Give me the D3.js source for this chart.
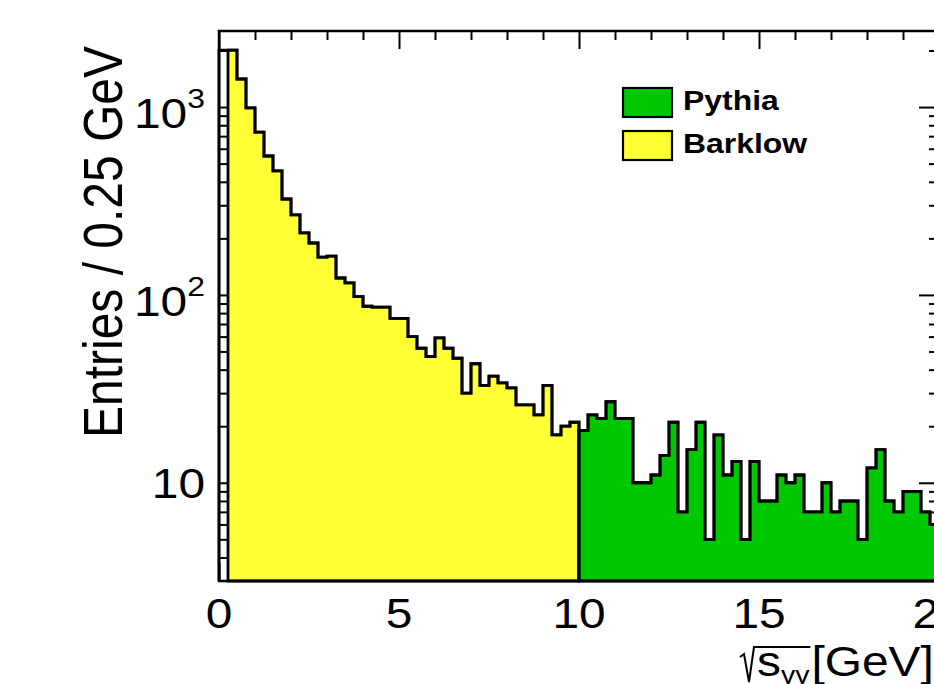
<!DOCTYPE html>
<html>
<head>
<meta charset="utf-8">
<script src="https://cdn.jsdelivr.net/npm/d3@7"></script>
<style>
  body { margin: 0; background: #fff; }
  svg { display: block; font-family: "Liberation Sans", Arial, Helvetica, sans-serif; }
</style>
</head>
<body>
<svg id="chart" width="934" height="684"></svg>
<script>
// bin contents, 0.25 GeV bins
const binWidth = 0.25;
const barklowStart = 0;   // first bin (0-0.25) is drawn hollow in the original
const barklow = [2010, 2010, 1410, 990, 736, 549, 457, 324, 267, 214,
                 189, 159, 161, 123, 116, 98, 87, 86, 86, 75,
                 75, 60, 52, 47, 59, 52, 46, 30, 43, 33,
                 37, 34, 32, 26, 26, 23, 33, 18, 20, 21];
const pythiaStart = 10;
const pythia = [19, 23, 22, 27, 22, 22, 10, 10, 11, 14,
                21, 7, 15, 21, 5, 18, 11, 13, 5, 13,
                8, 8, 11, 10, 11, 7, 7, 10, 7, 8,
                8, 5, 12, 15, 8, 7, 9, 9, 7, 6];

const legendNames = ["Pythia", "Barklow"];
const legendColors = ["#00c800", "#ffff33"];

const xLabelValues = [0, 5, 10, 15, 20];
const yLabelValues = [10, 100, 1000];
const yLabelExp = ["", "2", "3"];
const yMinorTicks = [4, 5, 6, 7, 8, 9, 20, 30, 40, 50, 60, 70, 80, 90,
                     200, 300, 400, 500, 600, 700, 800, 900, 2000];
const xMajorTicks = [0, 5, 10, 15, 20];
const xMinorTicks = d3.range(0, 21).filter(d => d % 5 != 0);

// frame
const fLeft = 219, fRight = 939, fTop = 31, fBottom = 581;
const stretch = 1.14;   // text in the picture is a bit wide

const svg = d3.select("#chart");

const x = d3.scaleLinear().domain([0, 20]).range([fLeft, fRight]);
const y = d3.scaleLog().domain([3, 2540]).range([fBottom, fTop]);

// ticks go first, the fills cover them
function yAxis(gen, tx) {
    svg.append("g").attr("transform", "translate(" + tx + ",0)")
        .call(gen)
        .call(g => g.select(".domain").remove())
        .call(g => g.selectAll("line").attr("stroke", "#000").attr("stroke-width", 2));
}
yAxis(d3.axisLeft(y).tickValues(yMinorTicks).tickSize(-10).tickFormat(""), fLeft);
yAxis(d3.axisLeft(y).tickValues(yLabelValues).tickSize(-20).tickFormat(""), fLeft);
yAxis(d3.axisRight(y).tickValues(yMinorTicks).tickSize(-10).tickFormat(""), fRight);
yAxis(d3.axisRight(y).tickValues(yLabelValues).tickSize(-20).tickFormat(""), fRight);

function xAxis(gen, ty) {
    svg.append("g").attr("transform", "translate(0," + ty + ")")
        .call(gen)
        .call(g => g.select(".domain").remove())
        .call(g => g.selectAll("line").attr("stroke", "#000").attr("stroke-width", 2));
}
xAxis(d3.axisTop(x).tickValues(xMinorTicks).tickSize(-9).tickFormat(""), fTop);
xAxis(d3.axisTop(x).tickValues(xMajorTicks).tickSize(-18).tickFormat(""), fTop);
xAxis(d3.axisBottom(x).tickValues(xMinorTicks).tickSize(-9).tickFormat(""), fBottom);
xAxis(d3.axisBottom(x).tickValues(xMajorTicks).tickSize(-18).tickFormat(""), fBottom);

// histogram helpers
function steps(values, start) {
    const pts = values.map((v, i) => [start + i * binWidth, v]);
    pts.push([start + values.length * binWidth, values[values.length - 1]]);
    return pts;
}
const area = d3.area()
    .curve(d3.curveStepAfter)
    .x(d => x(d[0]))
    .y0(y(3))
    .y1(d => y(d[1]));
const outline = d3.line()
    .curve(d3.curveStepAfter)
    .x(d => x(d[0]))
    .y(d => y(d[1]));

function drawHist(values, start, color, fillFrom) {
    const pts = steps(values, start);
    const fillPts = steps(values.slice(fillFrom), start + fillFrom * binWidth);
    svg.append("path")
        .datum(fillPts)
        .attr("fill", color)
        .attr("stroke", "#000")
        .attr("stroke-width", 2.8)
        .attr("d", area);
    const full = [[start, 3]].concat(pts).concat([[pts[pts.length - 1][0], 3]]);
    svg.append("path")
        .datum(full)
        .attr("fill", "none")
        .attr("stroke", "#000")
        .attr("stroke-width", 2.8)
        .attr("d", outline);
}
drawHist(barklow, barklowStart, legendColors[1], 1);
drawHist(pythia, pythiaStart, legendColors[0], 0);

// frame
svg.append("rect")
    .attr("x", fLeft).attr("y", fTop)
    .attr("width", fRight - fLeft).attr("height", fBottom - fTop)
    .attr("fill", "none").attr("stroke", "#000").attr("stroke-width", 2.5);

// tick labels
function wideText(tx, ty, anchor, size) {
    return svg.append("text")
        .attr("transform", "translate(" + tx + "," + ty + ") scale(" + stretch + ",1)")
        .attr("text-anchor", anchor)
        .attr("font-size", size)
        .attr("fill", "#000");
}
xLabelValues.forEach(v => {
    wideText(x(v), 628, "middle", 42).text(v);
});
yLabelValues.forEach((v, i) => {
    const exp = yLabelExp[i];
    const t = wideText(205, y(v) + (exp ? 21 : 15), "end", 42);
    t.append("tspan").text("10");
    if (exp) t.append("tspan").attr("font-size", 28).attr("dy", -20).text(exp);
});

// y title
svg.append("text")
    .attr("transform", "translate(122,242) scale(" + stretch + ",1) rotate(-90)")
    .attr("text-anchor", "middle")
    .attr("font-size", 48)
    .text("Entries / 0.25 GeV");

// x title: sqrt(s_gg) [GeV]
const tx0 = 757, tBase = 676;
const sPart = wideText(tx0, tBase, "start", 42);
sPart.append("tspan").text("s");
sPart.append("tspan").attr("font-size", 25).attr("dy", 8).text("γγ");
const sLen = sPart.node().getComputedTextLength() * stretch;
wideText(tx0 + sLen + 2, tBase, "start", 42).text("[GeV]");
svg.append("path")
    .attr("d", d3.line()([[tx0 - 17, 657], [tx0 - 13, 654], [tx0 - 8, 682], [tx0 - 3, 647], [tx0 + sLen + 1, 647]]))
    .attr("fill", "none").attr("stroke", "#000").attr("stroke-width", 2);

// legend
const legend = svg.append("g");
legendNames.forEach((name, i) => {
    const ly = 88 + i * 43;
    legend.append("rect")
        .attr("x", 623).attr("y", ly)
        .attr("width", 49).attr("height", 29)
        .attr("fill", legendColors[i])
        .attr("stroke", "#000").attr("stroke-width", 2.2);
    legend.append("text")
        .attr("transform", "translate(683," + (ly + 22) + ") scale(" + stretch + ",1)")
        .attr("font-size", 28)
        .attr("font-weight", "bold")
        .text(name);
});
</script>
</body>
</html>
